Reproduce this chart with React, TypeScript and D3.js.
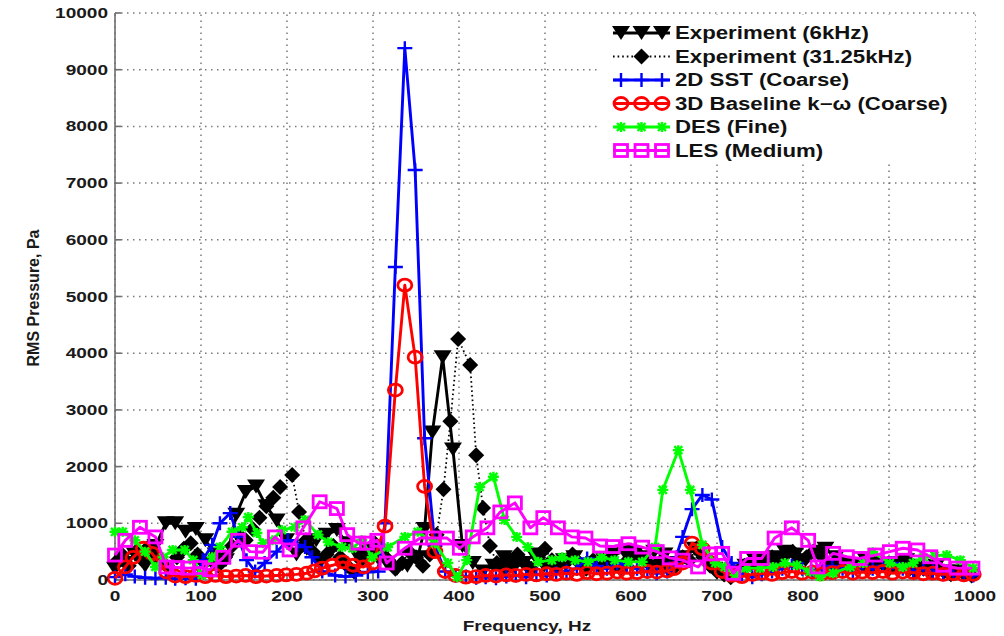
import React from "react";
import * as d3 from "d3";

// Frequency ticks (Hz) and pressure ticks (Pa)
const freqTicks = [0, 100, 200, 300, 400, 500, 600, 700, 800, 900, 1000];
const pressureTicks = [0, 1000, 2000, 3000, 4000, 5000, 6000, 7000, 8000, 9000, 10000];

// [frequency Hz, RMS pressure Pa]
const exp6k: [number, number][] = [
  [0, 200], [12, 300], [23, 450], [35, 250], [47, 600], [59, 1000], [70, 1000], [82, 850], [94, 900],
  [105, 700], [117, 450], [129, 350], [141, 1150], [152, 1550], [164, 1650], [176, 1300], [188, 1050],
  [199, 700], [211, 450], [223, 550], [234, 700], [246, 800], [258, 880], [270, 650], [281, 450],
  [293, 530], [305, 400], [316, 300], [328, 200], [340, 250], [352, 400], [360, 900], [369, 2600],
  [381, 3930], [393, 2300], [404, 600], [416, 300], [428, 150], [440, 250], [452, 400], [463, 200],
  [475, 300], [487, 450], [499, 250], [510, 200], [522, 350], [534, 400], [545, 250], [557, 300],
  [569, 350], [580, 450], [592, 500], [604, 450], [616, 400], [627, 500], [639, 450], [651, 300],
  [662, 400], [674, 550], [686, 350], [697, 200], [709, 80], [721, 150], [733, 250], [744, 350],
  [756, 300], [768, 400], [779, 500], [791, 450], [803, 350], [815, 500], [826, 550], [838, 400],
  [850, 300], [861, 250], [873, 350], [885, 300], [897, 250], [908, 300], [920, 350], [932, 250],
  [943, 200], [955, 250], [967, 150], [979, 150], [990, 100],
];

const exp31k: [number, number][] = [
  [0, 300], [8, 450], [16, 250], [24, 500], [32, 350], [40, 600], [48, 400], [56, 300], [64, 200],
  [72, 400], [80, 550], [88, 650], [96, 450], [104, 300], [112, 350], [120, 250], [128, 400],
  [136, 600], [144, 800], [152, 700], [160, 900], [168, 1100], [176, 1300], [184, 1450], [192, 1640],
  [206, 1850], [214, 1200], [222, 700], [230, 500], [238, 350], [246, 450], [254, 600], [262, 400],
  [270, 250], [278, 150], [286, 350], [294, 500], [302, 650], [310, 500], [318, 350], [326, 200],
  [334, 300], [342, 500], [350, 400], [358, 250], [366, 450], [374, 800], [382, 1600], [390, 2800],
  [399, 4250], [413, 3790], [420, 2200], [428, 1270], [436, 600], [444, 300], [452, 200], [460, 350],
  [468, 450], [476, 300], [484, 200], [492, 400], [500, 550], [508, 350], [516, 250], [524, 300],
  [532, 450], [540, 300], [548, 200], [556, 350], [564, 250], [572, 400], [580, 300], [588, 200],
  [596, 350], [604, 500], [612, 400], [620, 300], [628, 250], [636, 350], [644, 200], [652, 250],
  [660, 400], [668, 350], [676, 550], [684, 400], [692, 250], [700, 150], [708, 100], [716, 50],
  [724, 150], [732, 250], [740, 300], [748, 250], [756, 350], [764, 400], [772, 300], [780, 450],
  [788, 500], [796, 350], [804, 400], [812, 500], [820, 450], [828, 300], [836, 250], [844, 350],
  [852, 200], [860, 250], [868, 300], [876, 200], [884, 250], [892, 300], [900, 200], [908, 250],
  [916, 300], [924, 200], [932, 150], [940, 200], [948, 150], [956, 200], [964, 150], [972, 100],
  [980, 150], [988, 100], [996, 80],
];

const sst2d: [number, number][] = [
  [0, 50], [12, 100], [23, 60], [35, 40], [47, 30], [59, 40], [70, 20], [82, 30], [94, 20],
  [102, 350], [113, 620], [122, 1000], [134, 1180], [143, 760], [153, 350], [163, 150], [174, 300],
  [188, 500], [201, 700], [212, 620], [221, 580], [229, 400], [241, 150], [256, 80], [268, 60],
  [280, 80], [294, 140], [306, 150], [314, 1000], [326, 5520], [337, 9380], [349, 7230], [360, 2500],
  [372, 600], [384, 150], [396, 80], [408, 60], [420, 40], [431, 50], [443, 30], [455, 60], [466, 80],
  [478, 50], [490, 100], [502, 80], [513, 120], [525, 150], [537, 200], [549, 380], [560, 250],
  [572, 200], [584, 300], [595, 250], [607, 200], [619, 150], [630, 120], [642, 150], [650, 300],
  [660, 760], [671, 1250], [683, 1500], [694, 1420], [706, 580], [717, 300], [729, 100], [741, 50],
  [752, 100], [764, 150], [776, 200], [787, 250], [799, 200], [811, 150], [822, 200], [834, 250],
  [846, 200], [858, 150], [869, 250], [881, 200], [893, 250], [904, 300], [916, 200], [928, 150],
  [940, 200], [951, 150], [963, 100], [975, 120], [987, 100], [998, 80],
];

const baseline3d: [number, number][] = [
  [0, 30], [12, 230], [21, 400], [33, 560], [43, 470], [52, 300], [60, 140], [70, 70], [82, 60],
  [94, 80], [105, 60], [117, 80], [129, 60], [141, 70], [152, 80], [164, 60], [176, 70], [188, 80],
  [199, 90], [211, 100], [223, 120], [232, 160], [241, 210], [253, 260], [265, 320], [277, 260],
  [289, 230], [300, 300], [314, 950], [326, 3350], [337, 5200], [349, 3930], [360, 1650], [372, 500],
  [384, 150], [396, 80], [408, 50], [420, 60], [431, 80], [443, 70], [455, 90], [466, 80], [478, 100],
  [490, 90], [502, 110], [513, 100], [525, 120], [537, 100], [549, 130], [560, 110], [572, 120],
  [584, 140], [595, 120], [607, 130], [619, 150], [630, 140], [642, 160], [650, 200], [660, 300],
  [671, 650], [683, 550], [694, 300], [706, 150], [717, 80], [729, 60], [741, 100], [752, 120],
  [764, 100], [776, 130], [787, 150], [799, 120], [811, 140], [822, 110], [834, 130], [846, 150],
  [858, 120], [869, 140], [881, 130], [893, 150], [904, 120], [916, 140], [928, 130], [940, 110],
  [951, 120], [963, 100], [975, 110], [987, 90], [998, 100],
];

const desFine: [number, number][] = [
  [0, 850], [9, 850], [23, 700], [35, 500], [47, 230], [56, 400], [67, 530], [81, 530], [91, 350],
  [101, 90], [113, 400], [122, 580], [136, 850], [148, 930], [155, 1110], [165, 830], [172, 650],
  [183, 700], [194, 880], [209, 930], [221, 1060], [236, 800], [248, 670], [264, 580], [276, 560],
  [287, 700], [299, 400], [317, 580], [337, 760], [352, 850], [372, 650], [387, 300], [398, 50],
  [409, 350], [424, 1640], [440, 1820], [453, 1060], [467, 760], [480, 580], [492, 320], [508, 350],
  [520, 400], [535, 350], [550, 320], [566, 400], [581, 350], [597, 320], [613, 320], [628, 580],
  [637, 1590], [655, 2290], [669, 1590], [683, 620], [698, 300], [709, 230], [721, 90], [735, 210],
  [750, 210], [765, 230], [779, 300], [793, 260], [808, 150], [820, 60], [835, 120], [855, 230],
  [870, 300], [881, 490], [901, 300], [916, 230], [928, 300], [940, 400], [953, 430], [967, 440],
  [983, 350], [998, 210],
];

const lesMedium: [number, number][] = [
  [0, 440], [12, 700], [29, 930], [47, 760], [60, 230], [72, 220], [85, 210], [99, 220], [110, 180],
  [126, 400], [143, 700], [157, 500], [172, 490], [186, 760], [203, 530], [219, 920], [238, 1380],
  [258, 1260], [270, 800], [283, 650], [293, 650], [305, 700], [316, 300], [337, 560], [355, 740],
  [370, 740], [386, 740], [401, 560], [416, 760], [433, 920], [448, 1200], [465, 1360], [483, 920],
  [498, 1100], [515, 920], [531, 760], [547, 740], [564, 600], [579, 590], [597, 640], [613, 580],
  [630, 500], [645, 390], [660, 350], [678, 230], [692, 460], [706, 470], [719, 120], [735, 380],
  [752, 380], [767, 740], [787, 920], [806, 700], [817, 230], [835, 470], [851, 410], [866, 380],
  [884, 440], [901, 500], [916, 560], [933, 530], [948, 410], [963, 260], [979, 210], [997, 210],
];

const seriesNames = [
  "Experiment (6kHz)",
  "Experiment (31.25kHz)",
  "2D SST (Coarse)",
  "3D Baseline k\u2212\u03c9 (Coarse)",
  "DES (Fine)",
  "LES (Medium)",
];

type MarkerKind = "tri" | "diamond" | "plus" | "circle" | "star" | "square";

interface Series {
  name: string;
  data: [number, number][];
  color: string;
  marker: MarkerKind;
  dash?: string;
  width: number;
}

const series: Series[] = [
  { name: seriesNames[0], data: exp6k, color: "#000000", marker: "tri", width: 2.9 },
  { name: seriesNames[1], data: exp31k, color: "#000000", marker: "diamond", dash: "1.6,3", width: 1.8 },
  { name: seriesNames[2], data: sst2d, color: "#0000ff", marker: "plus", width: 2.9 },
  { name: seriesNames[3], data: baseline3d, color: "#ff0000", marker: "circle", width: 2.9 },
  { name: seriesNames[4], data: desFine, color: "#00ff00", marker: "star", width: 2.9 },
  { name: seriesNames[5], data: lesMedium, color: "#ff00ff", marker: "square", width: 2.9 },
];

const W = 1004;
const H = 636;
const SX = 1.27; // horizontal stretch of the text glyphs
const FONT = "'Liberation Sans', Arial, Helvetica, sans-serif";

const x = d3.scaleLinear().domain([0, 1000]).range([115, 975]);
const y = d3.scaleLinear().domain([0, 10000]).range([580, 13]);

function Marker({ kind, cx, cy, color }: { kind: MarkerKind; cx: number; cy: number; color: string }) {
  switch (kind) {
    case "tri":
      return <path d={`M${cx - 9},${cy - 7}L${cx + 9},${cy - 7}L${cx},${cy + 7}Z`} fill={color} />;
    case "diamond":
      return <path d={`M${cx},${cy - 8}L${cx + 8},${cy}L${cx},${cy + 8}L${cx - 8},${cy}Z`} fill={color} />;
    case "plus":
      return (
        <path
          d={`M${cx - 7.5},${cy}H${cx + 7.5}M${cx},${cy - 7}V${cy + 7}`}
          stroke={color}
          strokeWidth={2.4}
          fill="none"
        />
      );
    case "circle":
      return <ellipse cx={cx} cy={cy} rx={7} ry={6} fill="none" stroke={color} strokeWidth={2.8} />;
    case "star":
      return (
        <path
          d={`M${cx - 5.5},${cy}H${cx + 5.5}M${cx},${cy - 5}V${cy + 5}M${cx - 4},${cy - 4}L${cx + 4},${cy + 4}M${cx - 4},${cy + 4}L${cx + 4},${cy - 4}`}
          stroke={color}
          strokeWidth={2.4}
          fill="none"
        />
      );
    case "square":
      return <rect x={cx - 6.5} y={cy - 6} width={13} height={12} fill="none" stroke={color} strokeWidth={2.8} />;
  }
}

export default function App() {
  const line = d3
    .line<[number, number]>()
    .x((d) => x(d[0]))
    .y((d) => y(d[1]));

  const legendX0 = 613;
  const legendX1 = 670;
  const legendY0 = 33;
  const legendDy = 23.5;

  return (
    <svg
      width={W}
      height={H}
      style={{ position: "absolute", left: 0, top: 0, background: "#fff" }}
      fontFamily={FONT}
    >
      <rect x={0} y={0} width={W} height={H} fill="#fff" />

      {/* dotted grid */}
      <g stroke="#7a7a7a" strokeWidth={1.5} strokeDasharray="1.5,4.5">
        {freqTicks.map((t) => (
          <line key={`gx${t}`} x1={x(t)} x2={x(t)} y1={y(0)} y2={y(10000)} />
        ))}
        {pressureTicks.map((t) => (
          <line key={`gy${t}`} x1={x(0)} x2={x(1000)} y1={y(t)} y2={y(t)} />
        ))}
      </g>

      {/* axes */}
      <g stroke="#6e6e6e" strokeWidth={1.6}>
        <line x1={x(0)} x2={x(0)} y1={y(0)} y2={y(10000)} />
        <line x1={x(0)} x2={x(1000)} y1={y(0)} y2={y(0)} />
        {pressureTicks.map((t) => (
          <line key={`ty${t}`} x1={x(0)} x2={x(0) + 6} y1={y(t)} y2={y(t)} />
        ))}
        {freqTicks.map((t) => (
          <line key={`tx${t}`} x1={x(t)} x2={x(t)} y1={y(0)} y2={y(0) - 6} />
        ))}
      </g>

      {/* data series */}
      {series.map((s) => (
        <g key={s.name}>
          <path
            d={line(s.data) || ""}
            fill="none"
            stroke={s.color}
            strokeWidth={s.width}
            strokeDasharray={s.dash}
            strokeLinejoin="round"
          />
          {s.data.map((d, i) => (
            <Marker key={i} kind={s.marker} cx={x(d[0])} cy={y(d[1])} color={s.color} />
          ))}
        </g>
      ))}

      {/* tick labels */}
      <g fontSize={15} fontWeight="bold" fill="#1a1a1a">
        {pressureTicks.map((t) => (
          <text key={`ly${t}`} transform={`translate(${x(0) - 7},${y(t) + 5}) scale(${SX},1)`} textAnchor="end">
            {t}
          </text>
        ))}
        {freqTicks.map((t) => (
          <text key={`lx${t}`} transform={`translate(${x(t)},${y(0) + 21}) scale(${SX},1)`} textAnchor="middle">
            {t}
          </text>
        ))}
      </g>

      {/* axis titles */}
      <text
        transform={`translate(527,631) scale(${SX},1)`}
        textAnchor="middle"
        fontSize={15}
        fontWeight="bold"
        fill="#1a1a1a"
      >
        Frequency, Hz
      </text>
      <text
        transform={`translate(39,298) rotate(-90)`}
        textAnchor="middle"
        fontSize={16}
        fontWeight="bold"
        fill="#1a1a1a"
      >
        RMS Pressure, Pa
      </text>

      {/* legend */}
      <rect x={598} y={15} width={377} height={149} fill="#fff" />
      {series.map((s, i) => {
        const ly = legendY0 + i * legendDy;
        const mx = [legendX0 + 8, (legendX0 + legendX1) / 2, legendX1 - 8];
        return (
          <g key={`leg${i}`}>
            <line
              x1={legendX0}
              x2={legendX1}
              y1={ly}
              y2={ly}
              stroke={s.color}
              strokeWidth={s.width}
              strokeDasharray={s.dash}
            />
            {s.marker === "diamond" ? (
              <Marker kind={s.marker} cx={mx[1]} cy={ly} color={s.color} />
            ) : (
              mx.map((m, k) => <Marker key={k} kind={s.marker} cx={m} cy={ly} color={s.color} />)
            )}
            <text
              transform={`translate(675,${ly + 6}) scale(${SX},1)`}
              fontSize={17.5}
              fontWeight="bold"
              fill="#111"
            >
              {s.name}
            </text>
          </g>
        );
      })}
    </svg>
  );
}
